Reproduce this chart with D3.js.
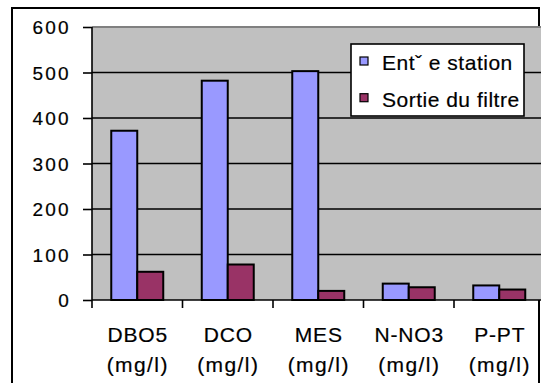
<!DOCTYPE html>
<html><head><meta charset="utf-8">
<script src="https://cdn.jsdelivr.net/npm/d3@7"></script>
<style>html,body{margin:0;padding:0;background:#fff;}svg{display:block;}</style>
</head><body>
<svg id="c" width="541" height="383"></svg>
<script>
const categories = ["DBO5", "DCO", "MES", "N-NO3", "P-PT"];
const unitLabel = "(mg/l)";
const seriesNames = ["Entˇ e station", "Sortie du filtre"];
const entreeValues = [372, 482, 503, 36, 32];
const sortieValues = [62, 78, 20, 28, 23];
const yTicks = [0, 100, 200, 300, 400, 500, 600];
const colors = ["#9999FF", "#993366"];

(function () {
const svg = d3.select("#c");
const font = "Arial, 'Liberation Sans', sans-serif";

svg.append("rect").attr("x", 12).attr("y", 8).attr("width", 527).attr("height", 400)
  .attr("fill", "#fff").attr("stroke", "#000").attr("stroke-width", 2);

const pLeft = 92, pTop = 27, pBottom = 300, catW = 90.5;
const x0 = d3.scaleBand().domain(categories).range([pLeft, pLeft + catW * categories.length]).padding(0);
const x1 = d3.scaleBand().domain(seriesNames).range([19.25, x0.bandwidth() - 19.25]).padding(0);
const y = d3.scaleLinear().domain([0, 600]).range([pBottom, pTop]);

const plot = svg.append("g");
plot.append("rect").attr("x", pLeft).attr("y", pTop).attr("width", 541 - pLeft).attr("height", pBottom - pTop)
  .attr("fill", "#C0C0C0");
plot.append("line").attr("x1", pLeft).attr("x2", 541).attr("y1", pTop).attr("y2", pTop)
  .attr("stroke", "#808080").attr("stroke-width", 2);
plot.selectAll("line.grid").data(yTicks.filter(t => t > 0 && t < 600)).enter().append("line")
  .attr("class", "grid").attr("x1", pLeft).attr("x2", 541)
  .attr("y1", d => y(d)).attr("y2", d => y(d))
  .attr("stroke", "#000").attr("stroke-width", 1.4);

const data = categories.map((c, i) => ({cat: c, vals: [entreeValues[i], sortieValues[i]]}));
const groups = plot.selectAll("g.cat").data(data).enter().append("g")
  .attr("transform", d => `translate(${x0(d.cat)},0)`);
groups.selectAll("rect").data(d => d.vals.map((v, j) => ({s: seriesNames[j], v, j}))).enter().append("rect")
  .attr("x", d => x1(d.s)).attr("width", x1.bandwidth())
  .attr("y", d => y(d.v)).attr("height", d => y(0) - y(d.v))
  .attr("fill", d => colors[d.j]).attr("stroke", "#000").attr("stroke-width", 2);

const yAxis = d3.axisLeft(y).tickValues(yTicks).tickSize(9).tickPadding(12);
const ga = svg.append("g").attr("transform", `translate(${pLeft},0)`).call(yAxis);
ga.select(".domain").attr("stroke", "#000").attr("stroke-width", 1.6).attr("d", `M0,${pTop}V${pBottom}`);
ga.selectAll(".tick line").attr("stroke", "#000").attr("stroke-width", 1.6);
ga.selectAll(".tick text").attr("font-family", font).attr("font-size", 19).attr("fill", "#000")
  .attr("letter-spacing", "2.3px").attr("dy", "0.36em").attr("stroke", "#000").attr("stroke-width", 0.2);

const xAxis = d3.axisBottom(x0).tickSize(0).tickFormat("");
const gx = svg.append("g").attr("transform", `translate(0,${pBottom})`).call(xAxis);
gx.select(".domain").attr("stroke", "#000").attr("stroke-width", 1.6).attr("d", `M${pLeft},0H541`);
gx.selectAll(".xt").data(categories).enter().append("line").attr("class", "xt")
  .attr("x1", d => x0(d)).attr("x2", d => x0(d)).attr("y1", 0).attr("y2", 8)
  .attr("stroke", "#000").attr("stroke-width", 1.6);

const lab = svg.append("g").selectAll("text").data(categories).enter().append("text")
  .attr("text-anchor", "middle").attr("font-family", font).attr("font-size", 21)
  .attr("fill", "#000").attr("stroke", "#000").attr("stroke-width", 0.2);
lab.append("tspan").attr("x", d => x0(d) + x0.bandwidth() / 2 + 0.5).attr("y", 342)
  .attr("letter-spacing", "0.8px").text(d => d);
lab.append("tspan").attr("x", d => x0(d) + x0.bandwidth() / 2 + 0.5).attr("y", 372)
  .attr("letter-spacing", "1.4px").text(unitLabel);

const lg = svg.append("g");
lg.append("rect").attr("x", 351).attr("y", 44).attr("width", 173).attr("height", 72)
  .attr("fill", "#fff").attr("stroke", "#000").attr("stroke-width", 1.6);
const items = lg.selectAll("g.li").data(seriesNames).enter().append("g")
  .attr("transform", (d, i) => `translate(0,${i * 36.7})`);
items.append("rect").attr("x", 360).attr("y", 57).attr("width", 8).attr("height", 8)
  .attr("fill", (d, i) => colors[i]).attr("stroke", "#000").attr("stroke-width", 1.2);
items.append("text").attr("x", 382).attr("y", 70).attr("font-family", font).attr("font-size", 21)
  .attr("letter-spacing", "0.5px").attr("fill", "#000").attr("stroke", "#000").attr("stroke-width", 0.2)
  .text(d => d);
})();
</script>
</body></html>
